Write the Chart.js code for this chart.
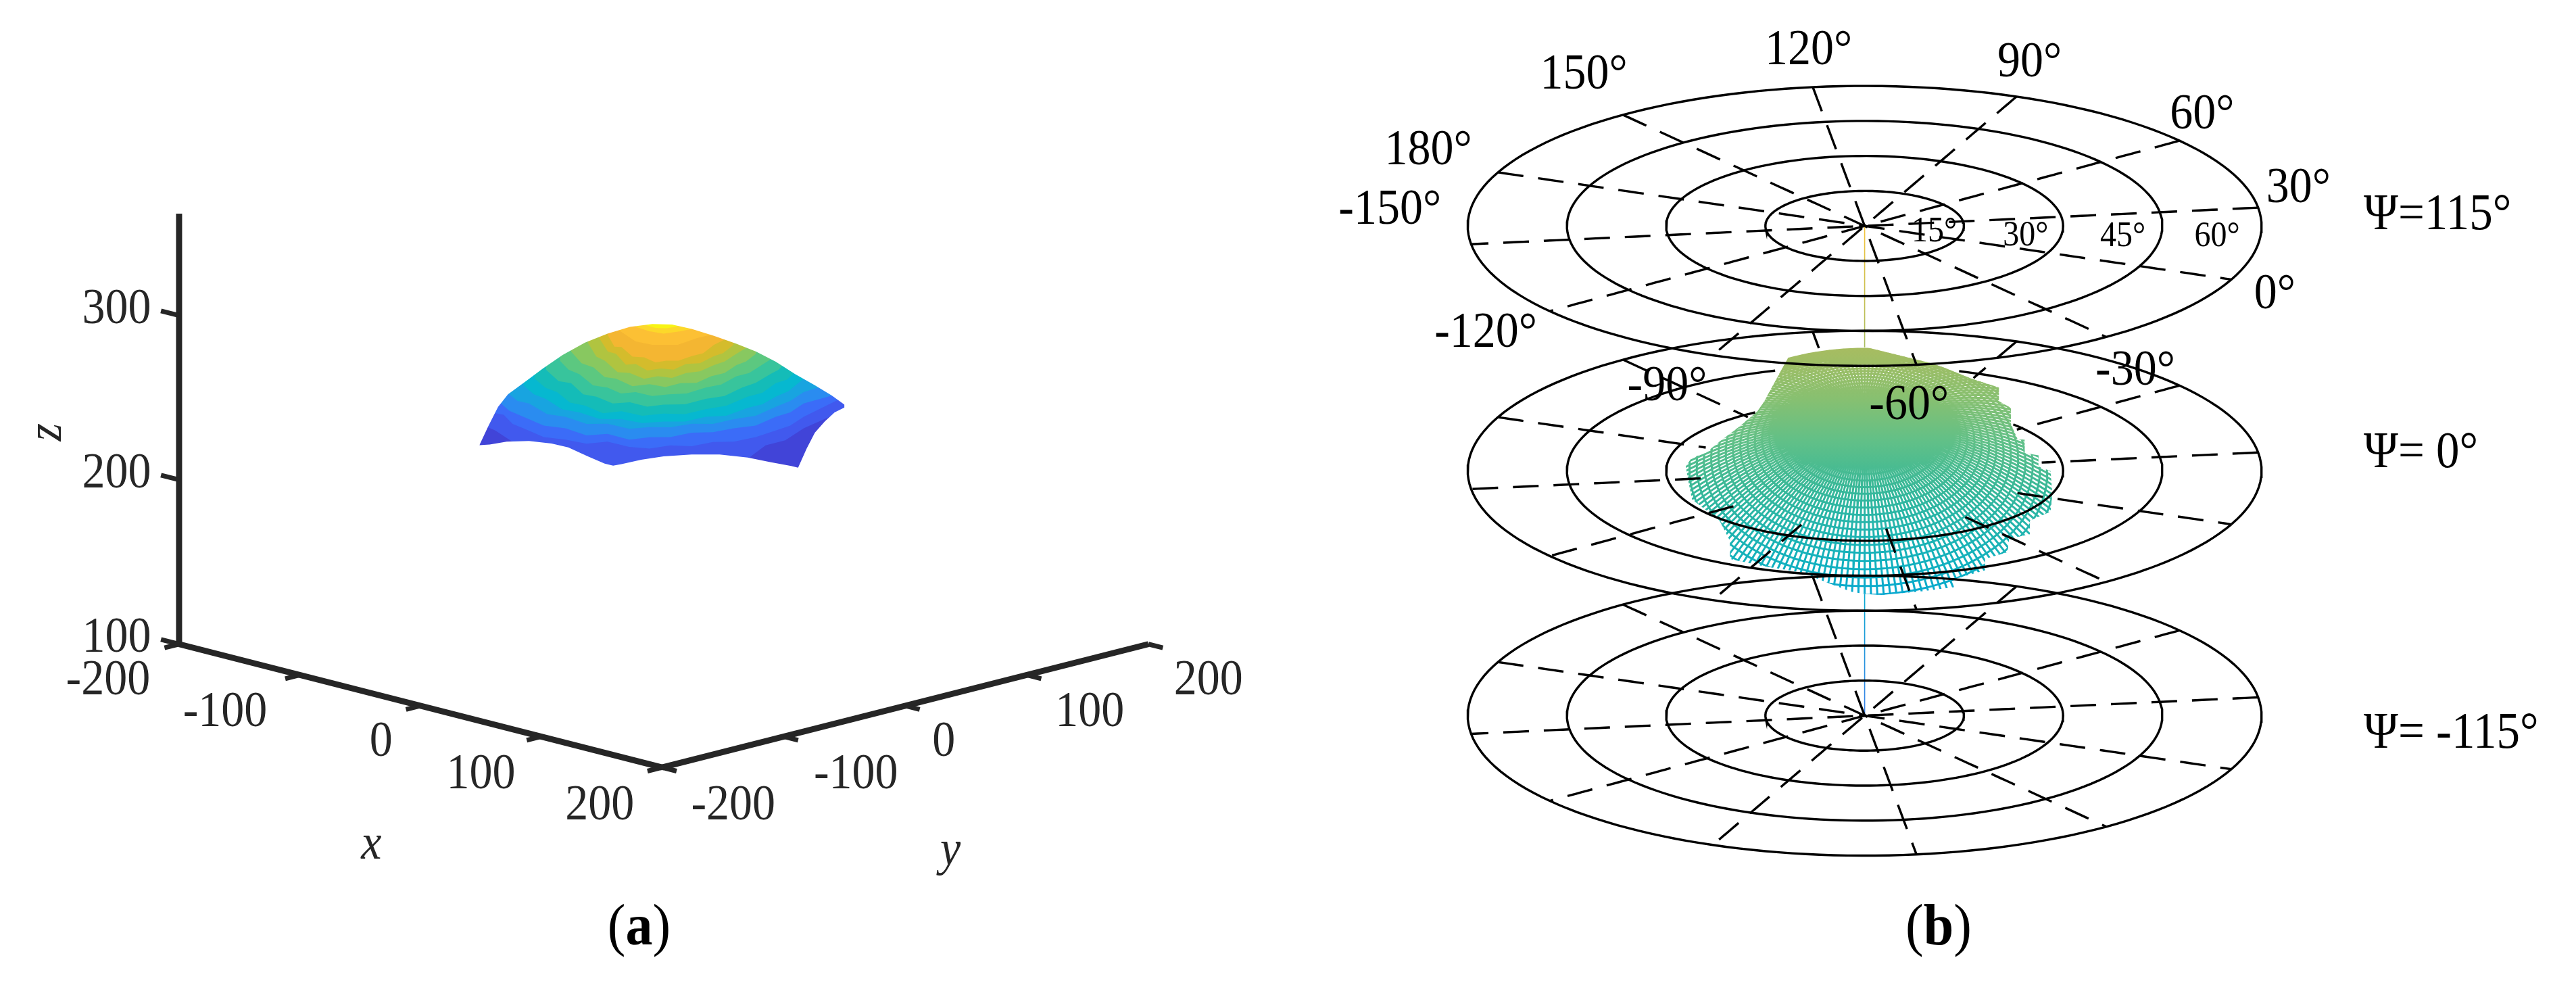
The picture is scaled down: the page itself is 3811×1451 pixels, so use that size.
<!DOCTYPE html>
<html>
<head>
<meta charset="utf-8">
<title>Espacio de trabajo</title>
<script src="https://cdn.jsdelivr.net/npm/chart.js@4"></script>
<style>
    html, body { margin: 0; padding: 0; background: #fff; }
    canvas { position: absolute; top: 0; }
</style>
</head>
<body>
<canvas id="panelA" width="1906" height="1451" style="left:0"></canvas>
<canvas id="panelB" width="1905" height="1451" style="left:1906px"></canvas>
<script>
// DATOS (a) -------------
const xTicks = [-200, -100, 0, 100, 200];
const yTicks = [-200, -100, 0, 100, 200];
const zTicks = [100, 200, 300];
const zTope = 362;

// borde de la superficie, en unidades de vista [h, v]
const bordeSup = [[289,221.1],[291.8,221.1],[297.3,232.8],[303.2,244.4],[309.2,252],[320.3,260.2],[330.5,267.8],[342.5,276],[356.1,283.5],[369.8,289],[383.4,293.1],[397.1,294.8],[409,294.5],[421,291.8],[434.6,287.6],[448.3,282.8],[460.2,278],[472.2,271.9],[484.1,264.3],[496.1,257.5],[506.3,251.3],[514,245.8],[517,245.8]];
const bordeInf = [[289,221.1],[291.8,221.1],[298.1,221.5],[308.4,223.2],[322,223.6],[335.7,222.1],[345.9,219.7],[357.8,214.3],[368.1,209.9],[373.2,208.6],[378.3,209.5],[390.3,212.2],[403.9,214.3],[421,215.4],[438,215.4],[455.1,213.6],[468.8,210.8],[481.6,208.4],[485.8,207.4],[491,219],[496,228.7],[502,235.5],[508,241],[514,244],[517,244]];

// curvas de nivel, de la mas baja a la mas alta
const nivelColor = ['#4144d8','#4159ee','#3b6cf8','#2a8cf0','#18a4e0','#06b8d0','#14bcb8','#38c49c','#5cc880','#88c860','#b0c440','#d4bc2c','#f4b632','#fcc034','#fcd82a','#f8f414'];
const nivelCurva = [
    [[291.8,150],[514,150]],
    [[291.8,234.1],[301.5,230],[311.8,223.2],[335.7,209.5],[403.9,202.6],[446,205],[458,215],[466,221],[478,224],[489.2,231.4],[514,242.4]],
    [[291.8,242.4],[306.6,239.6],[312,234],[318.6,231.4],[331,226],[344.2,224.5],[357,222],[369.8,223.2],[383,220],[395.4,219],[408,221],[421,220.4],[434,223],[446.6,223.2],[460,226],[472.2,230],[481,233],[489.2,238.3],[514,250.6]],
    [[303.2,247.9],[310,242],[318.6,238.3],[331,233],[344.2,231.4],[357,227],[369.8,228],[383,224.5],[395.4,225.9],[408,226],[421,228.7],[434,229],[446.6,231.4],[460,233],[472.2,238.3],[481,241],[489.2,246.5],[514,253.4]],
    [[308.4,253.4],[315,248],[322,246.5],[333,240],[344.2,238.3],[357,234],[369.8,234.1],[383,231],[395.4,232.1],[408,232],[421,234.1],[434,234],[446.6,236.9],[460,239],[472.2,244.4],[481,248],[489.2,253.4],[506.3,258.8]],
    [[318.6,257.5],[325,252],[332.2,249.2],[342,243],[352.7,241],[365,237],[378.3,236.9],[391,234.5],[403.9,235.5],[417,235.5],[429.5,238.3],[442,239],[455.1,243.8],[464,246],[472.2,250.6],[480,254],[489.2,261.6]],
    [[325.4,261.6],[332,256],[339.1,253.4],[347,247],[356.1,245.1],[367,240.5],[378.3,241.7],[391,239],[403.9,240.3],[417,240],[429.5,243],[442,245],[455.1,250.6],[464,253],[472.2,258.8],[479,261],[485.8,267.1]],
    [[332.2,267.1],[340,260],[347.6,258.8],[355,252],[363,250.6],[373,246.5],[383.4,247.2],[394,244.5],[403.9,245.8],[417,246],[429.5,249.2],[441,251],[451.7,256.1],[460,259],[468.8,264.3],[474,267],[479,272.5]],
    [[340.8,272.5],[346,267],[352.7,264.3],[361,257.5],[369.8,256.1],[378,252.5],[386.9,253.4],[397,251],[407.3,252],[418,252.5],[429.5,256.1],[439,258],[448.3,263],[456,265],[463.6,269.8],[472.2,275.3]],
    [[347.6,278],[354,271],[361.3,268.4],[368,262.5],[374.9,261.6],[385,257],[395.4,258.2],[405,256.5],[414.2,258.8],[424,259],[432.9,263],[441,265],[448.3,269.8],[454,272],[460.2,276.7]],
    [[357.8,283.5],[363,275],[368.1,272.5],[376,265.5],[383.4,265],[392,261.5],[400.5,263],[409,262],[417.6,265],[426,266],[434.6,269.8],[441,272],[448.3,276.7],[455.1,280.8]],
    [[364.7,286.3],[370,278],[374.9,276.7],[381,270],[386.9,270.5],[394,266.5],[402.2,267.8],[410,267],[417.6,270.5],[426,271],[434.6,275.3],[440,277],[446.6,282.2]],
    [[369.8,288.3],[374,281],[378.3,280.8],[385,275],[392,274.6],[399,271.5],[405.6,272.5],[413,272.5],[421,275.3],[428,277],[434.6,282.2],[441.5,285.6]],
    [[376.6,291.1],[386.9,284.2],[397.1,282.2],[412.5,282.2],[424.4,286.3],[432.9,288.3]],
    [[386.9,293.1],[395.4,290.4],[403.9,289],[414.2,290.4],[421,291.8]],
    [[392,294.5],[398.8,292.5],[405.6,292.2],[412.5,293.4]]
];

// DATOS (b) -------------
const planosPsi = [115, 0, -115];
const anillos = [15, 30, 45, 60];
const diametrosTheta = [30, 60, 90, 120, 150, 180];

// filas de la malla: radio, psi central e inclinacion de cada fila
const filaRho = [0,1.1,2.2,3.3,4.4,5.5,6.6,7.7,8.8,9.9,11,12.1,13.2,14.4,15.5,16.6,17.7,18.8,19.9,21,22.1,23.2,24.3,25.4,26.5,27.6,28.7,29.8,30.9];
const filaPsi = [22,22,21.9,21.7,21.4,21.1,20.7,20.2,19.6,19,18.3,17.5,16.7,15.8,14.8,13.7,12.6,11.4,10.1,8.7,7.3,5.8,4.2,2.5,0.8,-1,-2.9,-4.8,-6.8];
const filaInclina = [0,1.1,2.2,3.2,4.3,5.4,6.5,7.6,8.6,9.7,10.8,11.9,13,14,15.1,16.2,17.3,18.4,19.4,20.5,21.6,22.7,23.8,24.8,25.9,27,28.1,29.2,30.2];

// contorno escalonado de la malla, en unidades de vista [h, v]
const contornoMalla = [[1135.5,280.8],[1174.7,271.2],[1183.1,268.4],[1199.9,261.6],[1216.7,256.1],[1216.7,247.9],[1224,243.7],[1224,234.1],[1228.2,224.5],[1232.4,224.5],[1232.4,216.3],[1240.8,214.9],[1240.8,208.1],[1248.2,205.3],[1249.2,191.6],[1248.2,180.6],[1235.6,175.2],[1235.6,166.9],[1223,164.2],[1221.9,156],[1208.3,151.8],[1208.3,145],[1189.4,139.5],[1189.4,134.7],[1168.4,132],[1145.3,129.9],[1134.8,130.6],[1126.4,132],[1103.3,140.9],[1097,143.6],[1071.9,147.7],[1053,151.8],[1053,162.8],[1046.7,175.2],[1029.9,188.2],[1027.8,198.5],[1026.1,208.1],[1029.9,213.6],[1038.3,216.3],[1046.7,223.2],[1059.3,232.8],[1069.8,241.7],[1074,247.9],[1084.5,267.1],[1087.6,272.6],[1090.3,278.7]];

// color de la malla y del eje vertical segun la altura en la vista
const colorAltura = [[355,'#f5c43c'],[281,'#a8bc60'],[250,'#88c070'],[223,'#60c088'],[195,'#38b898'],[168,'#20b4b0'],[147,'#10b0c0'],[130,'#08a8d0'],[57,'#3a80e8']];

// TEXTOS [texto, h, v]
const textosA = [
    ['-200',65.8,77.4],['-100',137,58.3],['0',231.9,40],['100',292.7,20.2],['200',365,1.4],
    ['-200',446.3,1.4],['-100',521,20.2],['0',574.5,40],['100',663.3,58.3],['200',735.6,77.4],
    ['100',71,103.4],['200',71,203.3],['300',71,303.4]
];
const textosB = [
    ['120°',1100.9,461.1],['150°',964,446],['90°',1235.4,453.6],['60°',1340.4,422],['180°',869.4,400.2],['30°',1399,376.8],
    ['-150°',846,364],['0°',1384.6,312.2],['-120°',904.4,289],['-90°',1014.8,256.4],['-60°',1162,245.1],['-30°',1299.7,266.1]
];
const textosAnillo = [['15°',1177.4,350.7],['30°',1233,348.3],['45°',1292.2,348],['60°',1349.6,347.7]];
const textosPsi = [['Ψ=115°',1438.8,360.7],['Ψ= 0°',1438.8,216],['Ψ= -115°',1438.8,45.2]];

const FUENTE = '"Liberation Serif"';
const k = 3811 / 1568;
const vTop = 492, vBottom = 492 - 1451 / k;

/*---- Proyecciones ----*/
function proyA(x, y, z) {
    var a = x + 200, b = y + 200;
    return { x: 109 + a / 400 * 294 + b / 400 * 296, y: 100 - (a - b) / 400 * 75 + (z - 100) };
}

function proyB(theta, rho, psi) {
    var f = (theta - 22.5) * Math.PI / 180;
    return { x: 1135 + rho / 15 * 60.4 * Math.cos(f), y: 205.5 + 1.2957 * psi + rho / 15 * 21.3 * Math.sin(f) };
}

function dentroContorno(p) {
    var dentro = false;
    for (var i = 0, j = contornoMalla.length - 1; i < contornoMalla.length; j = i++) {
        var a = contornoMalla[i], b = contornoMalla[j];
        if ((a[1] > p.y) != (b[1] > p.y) && p.x < (b[0] - a[0]) * (p.y - a[1]) / (b[1] - a[1]) + a[0]) {
            dentro = !dentro;
        }
    }
    return dentro;
}

function pares(lista) {
    return lista.map(p => ({ x: p[0], y: p[1] }));
}

function linea(data, color, ancho, extra) {
    return Object.assign({ data: data, borderColor: color, borderWidth: ancho, showLine: true, pointRadius: 0, fill: false, tension: 0 }, extra || {});
}

/*---- Datasets (a) ----*/
function datasetsA() {
    var ds = [];
    nivelCurva.forEach((curva, i) => {
        ds.push(linea(pares(curva), 'transparent', 0, { fill: 'end', backgroundColor: nivelColor[i] }));
    });
    // lo que queda fuera del borde vuelve al fondo
    ds.push(linea(pares(bordeSup), 'transparent', 0, { fill: 'end', backgroundColor: '#fff' }));
    ds.push(linea(pares(bordeInf), 'transparent', 0, { fill: 'start', backgroundColor: '#fff' }));

    var oscuro = '#262626';
    ds.push(linea([proyA(-200, -200, 100), proyA(-200, -200, zTope)], oscuro, 9));
    ds.push(linea([proyA(-200, -200, 100), proyA(200, -200, 100)], oscuro, 9));
    ds.push(linea([proyA(200, -200, 100), proyA(200, 200, 100)], oscuro, 9));
    xTicks.forEach(t => ds.push(linea([proyA(t, -200, 100), proyA(t, -212, 100)], oscuro, 7)));
    yTicks.forEach(t => ds.push(linea([proyA(200, t, 100), proyA(212, t, 100)], oscuro, 7)));
    zTicks.forEach(t => ds.push(linea([proyA(-200, -200, t), proyA(-215, -200, t)], oscuro, 7)));
    return ds;
}

/*---- Datasets (b) ----*/
function oculto(p, rho, theta, psi) {
    if (psi != 0 || !dentroContorno(p)) { return false; }
    var delante = Math.sin((theta - 22.5) * Math.PI / 180) < 0;
    return !(delante && rho >= 25);
}

function anillo(rho, psi) {
    var puntos = [];
    for (var t = 0; t <= 360; t += 2) {
        var p = proyB(t, rho, psi);
        puntos.push(oculto(p, rho, t, psi) ? { x: NaN, y: NaN } : p);
    }
    return linea(puntos, '#000', 3.4);
}

// cada diametro va de un extremo al otro, la raya sigue seguida por el centro
function diametro(theta, psi) {
    var puntos = [];
    for (var r = -60; r <= 60; r++) {
        var t = r < 0 ? theta : theta + 180;
        var p = proyB(t, Math.abs(r), psi);
        puntos.push(oculto(p, Math.abs(r), t, psi) ? { x: NaN, y: NaN } : p);
    }
    return linea(puntos, '#000', 3.4, { borderDash: [38, 22] });
}

var gradMalla = null;
function gradiente(chart) {
    if (!gradMalla) {
        var v0 = colorAltura[0][0], v1 = colorAltura[colorAltura.length - 1][0];
        gradMalla = chart.ctx.createLinearGradient(0, (vTop - v0) * k, 0, (vTop - v1) * k);
        colorAltura.forEach(c => gradMalla.addColorStop((v0 - c[0]) / (v0 - v1), c[1]));
    }
    return gradMalla;
}

function datasetsB() {
    var ds = [];
    var color = c => gradiente(c.chart);

    // filas y radios de la malla
    var filas = [], radiales = [];
    filaRho.forEach((rho, i) => {
        for (var f = 0; f <= 360; f += 2) {
            var psi = filaPsi[i] + filaInclina[i] * Math.sin(f * Math.PI / 180);
            filas.push(proyB(f + 22.5, rho, psi));
        }
        filas.push({ x: NaN, y: NaN });
    });
    for (var f = 0; f < 360; f += 2) {
        filaRho.forEach((rho, i) => {
            var psi = filaPsi[i] + filaInclina[i] * Math.sin(f * Math.PI / 180);
            radiales.push(proyB(f + 22.5, rho, psi));
        });
        radiales.push({ x: NaN, y: NaN });
    }
    ds.push(linea(filas, color, 3, { recortar: true }));
    ds.push(linea(radiales, color, 3, { recortar: true }));

    // eje vertical entre planos
    ds.push(linea([proyB(0, 0, planosPsi[0]), proyB(0, 0, 58)], color, 1.6));
    ds.push(linea([proyB(0, 0, -58), proyB(0, 0, planosPsi[2])], color, 1.6));

    planosPsi.forEach(psi => {
        anillos.forEach(rho => ds.push(anillo(rho, psi)));
        diametrosTheta.forEach(t => ds.push(diametro(t, psi)));
    });
    return ds;
}

/*---- Config graficas ----*/
const recorte = {
    id: 'recorte',
    beforeDatasetDraw(chart, args) {
        if (!chart.data.datasets[args.index].recortar) { return; }
        var ctx = chart.ctx;
        ctx.save();
        ctx.beginPath();
        contornoMalla.forEach((p, i) => {
            var x = chart.scales.x.getPixelForValue(p[0]), y = chart.scales.y.getPixelForValue(p[1]);
            if (i == 0) { ctx.moveTo(x, y); } else { ctx.lineTo(x, y); }
        });
        ctx.closePath();
        ctx.clip();
    },
    afterDatasetDraw(chart, args) {
        if (chart.data.datasets[args.index].recortar) { chart.ctx.restore(); }
    }
};

function ponTexto(chart, texto, h, v, fuente, color, alinea, giro) {
    var ctx = chart.ctx;
    ctx.save();
    ctx.font = fuente;
    ctx.fillStyle = color;
    ctx.textAlign = alinea || 'center';
    ctx.textBaseline = 'middle';
    ctx.translate(chart.scales.x.getPixelForValue(h), chart.scales.y.getPixelForValue(v));
    if (giro) { ctx.rotate(giro); }
    ctx.scale(1, 1.09);
    ctx.fillText(texto, 0, 0);
    ctx.restore();
}

function ponLetra(chart, letra, h, v) {
    var ctx = chart.ctx;
    var fina = '80px ' + FUENTE, gorda = 'bold 80px ' + FUENTE;
    ctx.font = fina;
    var p = ctx.measureText('(').width;
    ctx.font = gorda;
    var a = ctx.measureText(letra).width;
    var paso = 1 / k;
    ponTexto(chart, '(', h - (a / 2 + p / 2) * paso, v, fina, '#000');
    ponTexto(chart, letra, h, v, gorda, '#000');
    ponTexto(chart, ')', h + (a / 2 + p / 2) * paso, v, fina, '#000');
}

const textoA = {
    id: 'textoA',
    afterDatasetsDraw(chart) {
        textosA.forEach(t => ponTexto(chart, t[0], t[1], t[2], '68px ' + FUENTE, '#262626'));
        ponTexto(chart, 'x', 226, -22.7, 'italic 68px ' + FUENTE, '#262626');
        ponTexto(chart, 'y', 578.5, -26.2, 'italic 68px ' + FUENTE, '#262626');
        ponTexto(chart, 'z', 29, 229, 'italic 68px ' + FUENTE, '#262626', 'center', -Math.PI / 2);
        ponLetra(chart, 'a', 389, -73.5);
    }
};

const textoB = {
    id: 'textoB',
    afterDatasetsDraw(chart) {
        textosB.forEach(t => ponTexto(chart, t[0], t[1], t[2], '68px ' + FUENTE, '#000'));
        textosAnillo.forEach(t => ponTexto(chart, t[0], t[1], t[2], '48px ' + FUENTE, '#000'));
        textosPsi.forEach(t => ponTexto(chart, t[0], t[1], t[2], '69px ' + FUENTE, '#000', 'left'));
        ponLetra(chart, 'b', 1180, -73.5);
    }
};

function config(datasets, hMin, hMax, plugins) {
    datasets.forEach((d, i) => { d.order = -i; });
    return {
        type: 'scatter',
        data: { datasets: datasets },
        options: {
            responsive: false,
            animation: false,
            layout: { padding: 0 },
            plugins: { legend: { display: false }, tooltip: { enabled: false } },
            scales: {
                x: { type: 'linear', display: false, min: hMin, max: hMax },
                y: { type: 'linear', display: false, min: vBottom, max: vTop }
            }
        },
        plugins: plugins
    };
}

const corte = 1906 / k;
const graficaA = new Chart(document.getElementById('panelA'), config(datasetsA(), 0, corte, [textoA]));
const graficaB = new Chart(document.getElementById('panelB'), config(datasetsB(), corte, 1568, [recorte, textoB]));
</script>
</body>
</html>
